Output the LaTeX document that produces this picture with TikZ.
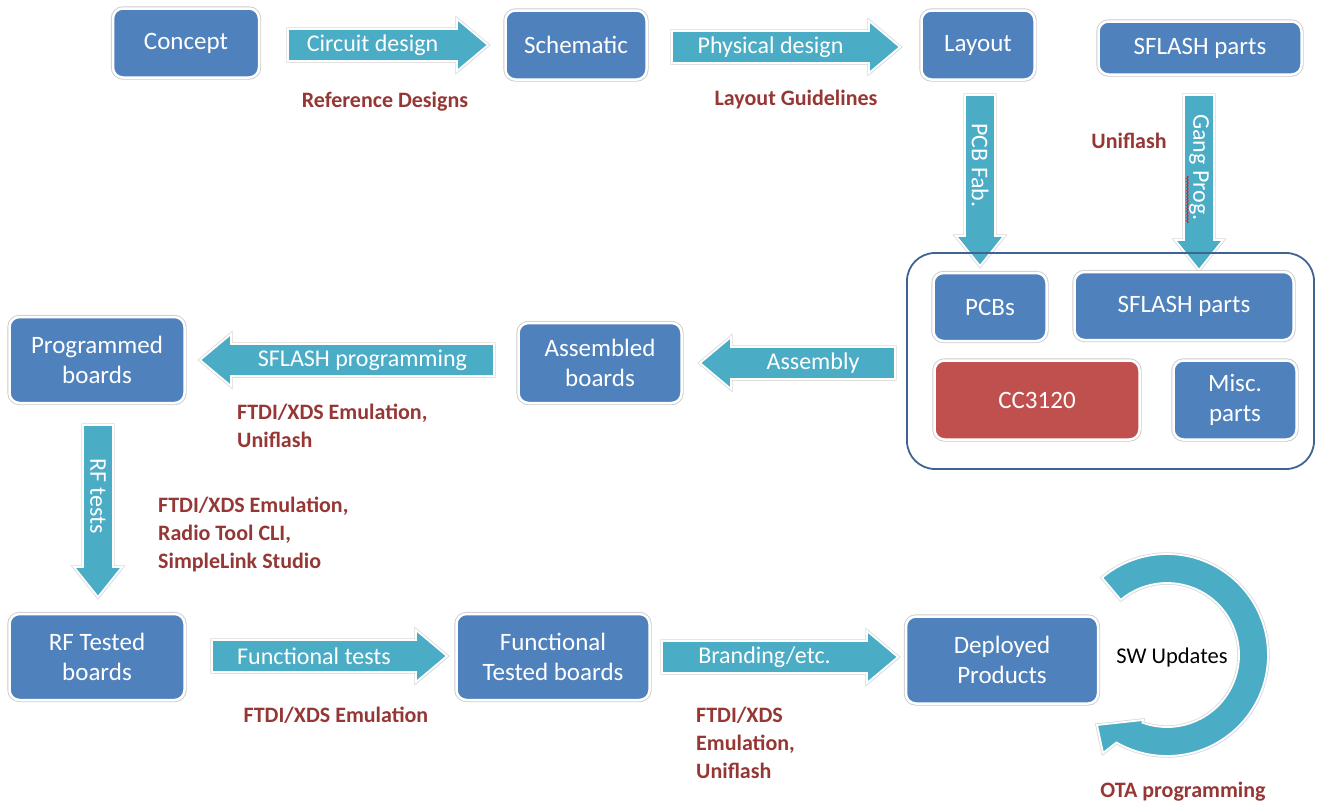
\documentclass[tikz,border=0pt]{standalone}
\usepackage{fontspec}
\setmainfont{Carlito}
\usetikzlibrary{shadows,decorations.pathmorphing,calc}
\definecolor{boxblue}{RGB}{79,129,189}
\definecolor{arrteal}{RGB}{75,172,198}
\definecolor{boxred}{RGB}{192,80,77}
\definecolor{labred}{RGB}{149,55,53}
\definecolor{contblue}{RGB}{62,100,148}
% right-pointing block arrow: name, x start, x tip, y centre, text
\newcommand\rblock[5]{%
  \path[arrfill] (#2,#4-16) -- (#3-31,#4-16) -- (#3-31,#4-26) -- (#3,#4)
     -- (#3-31,#4+26) -- (#3-31,#4+16) -- (#2,#4+16) -- cycle;
  \node[arrtext] (#1) at ({(#2+#3-31)/2},#4) {#5};}
% left-pointing block arrow: name, x tip, x end, y centre, text
\newcommand\lblock[5]{%
  \path[arrfill] (#2,#4) -- (#2+31,#4-26) -- (#2+31,#4-16) -- (#3,#4-16)
     -- (#3,#4+16) -- (#2+31,#4+16) -- (#2+31,#4+26) -- cycle;
  \node[arrtext] (#1) at ({(#2+31+#3)/2},#4) {#5};}
% down-pointing block arrow: name, x centre, y start, y tip, text
\newcommand\dblock[5]{%
  \path[arrfill] (#2-15,#3) -- (#2+15,#3) -- (#2+15,#4-30) -- (#2+24,#4-30)
     -- (#2,#4) -- (#2-24,#4-30) -- (#2-15,#4-30) -- cycle;
  \node[arrtext,rotate=-90] (#1) at (#2,{(#3+#4-30)/2}) {#5};}
\begin{document}
\begin{tikzpicture}[x=1pt,y=-1pt,
  box/.style={rectangle, rounded corners=10pt, fill=boxblue, draw=white,
    line width=2.5pt, text=white, font=\fontsize{25}{30}\selectfont,
    align=center, inner sep=0pt,
    drop shadow={shadow xshift=1pt, shadow yshift=-1.5pt, opacity=0.25},
    preaction={draw=black!20, line width=4.3pt}},
  redbox/.style={box, fill=boxred},
  arrfill/.style={fill=arrteal, draw=white, line width=1.8pt,
    drop shadow={shadow xshift=1pt, shadow yshift=-1.5pt, opacity=0.2},
    preaction={draw=black!15, line width=3.4pt}},
  arrtext/.style={text=white, font=\fontsize{24}{28}\selectfont, inner sep=0pt},
  lab/.style={text=labred, font=\bfseries\fontsize{22}{28}\selectfont,
    inner sep=0pt, align=left},
  container/.style={draw=contblue, line width=1.8pt, rounded corners=28pt}]
\useasboundingbox (0,0) rectangle (1317,803);

% block arrows
\rblock{circuit}{288}{488}{45}{Circuit design}
\rblock{physical}{672}{900}{47}{Physical design}
\dblock{pcbfab}{980}{95}{266}{PCB Fab.}
\dblock{gang}{1199}{95}{270}{Gang Prog.}
\lblock{assembly}{700}{895}{363}{Assembly}
\lblock{sflashprog}{200}{494}{360}{SFLASH programming}
\dblock{rftests}{98}{425}{597}{RF tests}
\rblock{functests}{212}{447}{656}{Functional tests}
\rblock{branding}{662}{898}{657}{Branding/etc.}

% spell-check squiggle under "Prog."
\draw[red, line width=0.7pt, decorate,
  decoration={snake, amplitude=0.8pt, segment length=3pt}]
  (1187.5,176) -- (1187.5,223);

% container of parts
\draw[container] (907,253) rectangle (1314,469);

% boxes
\node[box, minimum width=146, minimum height=69] (concept) at (186,43) {Concept};
\node[box, minimum width=141, minimum height=69] (schematic) at (576,45) {Schematic};
\node[box, minimum width=113, minimum height=69] (layout) at (978,45) {Layout};
\node[box, minimum width=203, minimum height=53] (sflashtop) at (1200,48) {SFLASH parts};
\node[box, minimum width=113, minimum height=68] (pcbs) at (990,307) {PCBs};
\node[box, minimum width=219, minimum height=68] (sflashin) at (1184,306) {SFLASH parts};
\node[redbox, minimum width=205, minimum height=79] (cc) at (1037,400) {CC3120};
\node[box, minimum width=123, minimum height=79] (misc) at (1235,400) {Misc.\\parts};
\node[box, minimum width=163, minimum height=80] (assembled) at (600,363) {Assembled\\boards};
\node[box, minimum width=175, minimum height=86] (programmed) at (97,360) {Programmed\\boards};
\node[box, minimum width=175, minimum height=86] (rftested) at (97,657) {RF Tested\\boards};
\node[box, minimum width=193, minimum height=86] (functional) at (553,657) {Functional\\Tested boards};
\node[box, minimum width=192, minimum height=87] (deployed) at (1002,660) {Deployed\\Products};

% circular SW update arrow
\coordinate (cc0) at (1167,655);
\path[arrfill] ($(cc0)+(230:101)$) arc[start angle=230, end angle=480, radius=101]
  -- (1103,753) -- (1097,725) -- (1143,720) -- ($(cc0)+(470:72)$)
  arc[start angle=470, end angle=230, radius=72] -- cycle;
\node[font=\fontsize{22.5}{27}\selectfont, inner sep=0pt] (sw) at (1172,657) {SW Updates};

% red tool labels
\node[lab] (refdes) at (385,102) {Reference Designs};
\node[lab] (layguide) at (796,100) {Layout Guidelines};
\node[lab] (uniflash) at (1129,141) {Uniflash};
\node[lab, anchor=north west] (progtools) at (237,404) {FTDI/XDS Emulation,\\Uniflash};
\node[lab, anchor=north west] (rftools) at (158,497) {FTDI/XDS Emulation,\\Radio Tool CLI,\\SimpleLink Studio};
\node[lab] (functools) at (336,715) {FTDI/XDS Emulation};
\node[lab, anchor=north west] (brandtools) at (696,707) {FTDI/XDS\\Emulation,\\Uniflash};
\node[lab] (ota) at (1183,792) {OTA programming};
\end{tikzpicture}
\end{document}
